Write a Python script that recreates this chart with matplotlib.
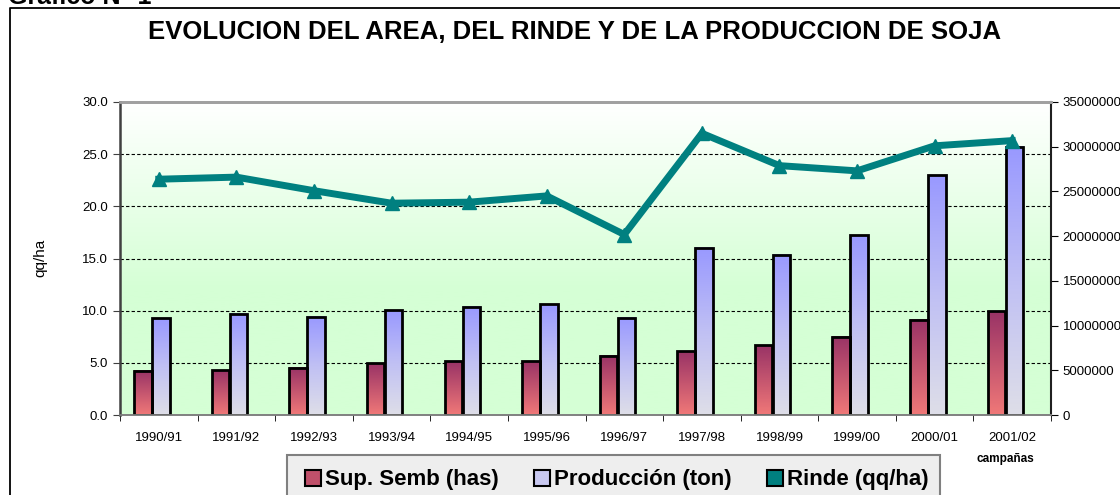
import numpy as np
import matplotlib
matplotlib.use("Agg")
import matplotlib.pyplot as plt
from matplotlib.patches import Rectangle, Patch
from matplotlib.lines import Line2D
from matplotlib.colors import LinearSegmentedColormap
from matplotlib import transforms

plt.rcParams['font.family'] = ['Liberation Sans', 'DejaVu Sans']

campanas = ["1990/91", "1991/92", "1992/93", "1993/94", "1994/95", "1995/96",
            "1996/97", "1997/98", "1998/99", "1999/00", "2000/01", "2001/02"]
sup_semb = [4.95e6, 5.0e6, 5.3e6, 5.8e6, 6.0e6, 6.0e6,
            6.65e6, 7.15e6, 7.8e6, 8.75e6, 10.65e6, 11.6e6]
produccion = [10.8e6, 11.3e6, 11.0e6, 11.7e6, 12.1e6, 12.4e6,
              10.9e6, 18.7e6, 17.9e6, 20.1e6, 26.8e6, 30.0e6]
rinde = [22.6, 22.8, 21.5, 20.3, 20.4, 21.0, 17.3, 27.0, 23.9, 23.4, 25.8, 26.3]

W, H = 1120, 495
fig = plt.figure(figsize=(W / 100, H / 100), dpi=100)

# outer frame
fig.add_artist(Line2D([10 / W, 10 / W, 1.0], [0.0, 1 - 8 / H, 1 - 8 / H],
                      transform=fig.transFigure, color='black', lw=1.3))
fig.text(8 / W, 1 - 4 / H, "Gráfico N° 1", fontsize=18, fontweight='bold',
         va='baseline', ha='left')
fig.text(0.513, 0.935, "EVOLUCION DEL AREA, DEL RINDE Y DE LA PRODUCCION DE SOJA",
         fontsize=18.5, fontweight='bold', ha='center', va='center')

ax = fig.add_axes([120 / W, 1 - 415 / H, 931 / W, 313 / H])
ax2 = ax.twinx()
ax.set_zorder(ax2.get_zorder() + 1)
ax.patch.set_visible(False)

x = np.arange(len(campanas))
ymax2 = 35e6

# background gradient
n = 200
t = np.clip(np.linspace(0, 1, n) / 0.6, 0, 1)[:, None]  # 0 at top
bg = np.ones((n, 1, 3))
green = np.array([213, 255, 213]) / 255
bg[:, 0, :] = (1 - t) * 1.0 + t * green
ax2.imshow(bg, extent=(-0.5, 11.5, 0, ymax2), aspect='auto', zorder=0)

# grid from left axis, behind bars
grid_tr = transforms.blended_transform_factory(ax2.transAxes, ax.transData)
ax2.hlines([5, 10, 15, 20, 25], 0, 1, transform=grid_tr, colors='black',
           linestyles=(0, (3, 2)), lw=0.8, zorder=1)

red_cmap = LinearSegmentedColormap.from_list('r', ['#f07878', '#993366'])
blue_cmap = LinearSegmentedColormap.from_list('b', ['#dedee8', '#c0c0f4', '#9999ff'])
grad = np.linspace(1, 0, 100)[:, None]
bw = 0.225
for i in range(len(campanas)):
    for val, off, cm in ((sup_semb[i], -0.204, red_cmap), (produccion[i], 0.028, blue_cmap)):
        x0 = x[i] + off - bw / 2
        ax2.imshow(grad, extent=(x0, x0 + bw, 0, val), aspect='auto', cmap=cm,
                   vmin=0, vmax=1, zorder=2)
        ax2.add_patch(Rectangle((x0, 0), bw, val, facecolor='none',
                                edgecolor='black', lw=2, zorder=3))

ax.plot(x, rinde, color='#008080', lw=5, marker='^', markersize=10,
        solid_joinstyle='miter', zorder=5)

ax.set_xlim(-0.5, 11.5)
ax2.set_xlim(-0.5, 11.5)
ax.set_ylim(0, 30)
ax2.set_ylim(0, ymax2)
ax.set_yticks(np.arange(0, 31, 5))
ax.set_yticklabels([f"{v:.1f}" for v in np.arange(0, 31, 5)])
ax2.set_yticks(np.arange(0, 35e6 + 1, 5e6))
ax2.set_yticklabels([f"{int(v)}" for v in np.arange(0, 35e6 + 1, 5e6)])
ax.set_xticks(x)
ax.set_xticklabels(campanas)
ax.set_xticks(np.arange(-0.5, 12, 1), minor=True)
ax.tick_params(axis='x', which='major', length=0, labelsize=9.5, pad=12)
ax.tick_params(axis='x', which='minor', length=4, direction='out')
ax.tick_params(axis='y', labelsize=9.5, length=5, direction='out', color='#404040')
ax2.tick_params(axis='y', labelsize=9.5, length=5, direction='out')

for a in (ax, ax2):
    a.spines['top'].set_color('#a0a0a0')
    a.spines['top'].set_linewidth(2)
    a.spines['bottom'].set_color('#808080')
    a.spines['bottom'].set_linewidth(1.2)
ax.spines['left'].set_color('#404040')
ax.spines['left'].set_linewidth(1.8)
ax2.spines['right'].set_color('#202020')
ax2.spines['right'].set_linewidth(1.5)
ax.spines['right'].set_visible(False)
ax2.spines['left'].set_visible(False)

fig.text(40 / W, 1 - 258 / H, "qq/ha", rotation=90, fontsize=11,
         ha='center', va='center')
fig.text(1005 / W, 1 - 459 / H, "campañas", fontsize=8.5, fontweight='bold',
         ha='center', va='center')

# legend box
fig.add_artist(Rectangle((287 / W, -0.05), (940 - 287) / W, 0.05 + 40 / H,
                         transform=fig.transFigure, facecolor='#eeeeee',
                         edgecolor='#808080', lw=1.5))
handles = [Patch(facecolor='#c0506a', edgecolor='black', lw=1.5),
           Patch(facecolor='#c8c8f0', edgecolor='black', lw=1.5),
           Patch(facecolor='#008080', edgecolor='black', lw=1.5)]
labels = ["Sup. Semb (has)", "Producción (ton)", "Rinde (qq/ha)"]
fig.legend(handles, labels, loc='center', bbox_to_anchor=(617 / W, 1 - 480 / H),
           ncol=3, frameon=False, handlelength=0.7, handleheight=0.7,
           handletextpad=0.2, columnspacing=1.6,
           prop={'size': 16, 'weight': 'bold'})

fig.savefig("out.png", dpi=100)
